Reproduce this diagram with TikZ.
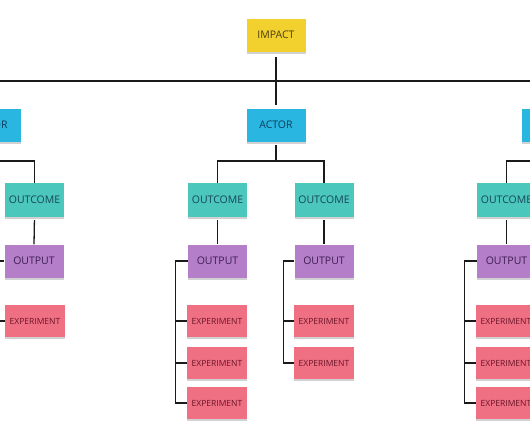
\documentclass[tikz,border=0pt]{standalone}
\usepackage{fontspec}
\setmainfont{Open Sans}
\usetikzlibrary{shadows}
\definecolor{impactfill}{HTML}{F2D02E}
\definecolor{impacttext}{HTML}{4B3F10}
\definecolor{actorfill}{HTML}{29B6E0}
\definecolor{actortext}{HTML}{0E3D5C}
\definecolor{outcomefill}{HTML}{4CC7BC}
\definecolor{outcometext}{HTML}{15465A}
\definecolor{outputfill}{HTML}{B57EC8}
\definecolor{outputtext}{HTML}{3D1F55}
\definecolor{expfill}{HTML}{F07083}
\definecolor{exptext}{HTML}{6A1528}
\definecolor{linecol}{HTML}{1A1A1A}
\tikzset{
  note/.style={inner sep=0pt, minimum width=59pt, minimum height=33pt,
    drop shadow={shadow xshift=0pt, shadow yshift=-2pt, opacity=0.18, fill=black}},
  impactnote/.style={note, fill=impactfill, text=impacttext, font=\fontsize{10.5}{12}\selectfont},
  actornote/.style={note, fill=actorfill, text=actortext, font=\fontsize{10.5}{12}\selectfont},
  outcomenote/.style={note, fill=outcomefill, text=outcometext, minimum height=34pt, font=\fontsize{10.5}{12}\selectfont},
  outputnote/.style={note, fill=outputfill, text=outputtext, font=\fontsize{10.5}{12}\selectfont},
  expnote/.style={note, fill=expfill, text=exptext, minimum width=60pt, minimum height=32pt, font=\fontsize{8.5}{10}\selectfont},
  link/.style={draw=linecol, line width=1.3pt}
}
\begin{document}
\begin{tikzpicture}[x=1pt,y=-1pt]
\useasboundingbox (0,0) rectangle (530,442);
\clip (0,0) rectangle (530,442);
\fill[white] (0,0) rectangle (530,442);
% level 1
\node[impactnote] (impact) at (276,35) {IMPACT};
% level 2
\node[actornote] (actorL) at (-9,125) {ACTOR};
\node[actornote] (actorC) at (276,125) {ACTOR};
\node[actornote] (actorR) at (551,125) {ACTOR};
% level 3
\node[outcomenote] (outL) at (34.5,200) {OUTCOME};
\node[outcomenote] (outC1) at (217.5,200) {OUTCOME};
\node[outcomenote] (outC2) at (324,200) {OUTCOME};
\node[outcomenote] (outR) at (506.5,200) {OUTCOME};
% level 4
\node[outputnote] (outpL) at (34,261) {OUTPUT};
\node[outputnote] (outpC1) at (217.5,261) {OUTPUT};
\node[outputnote] (outpC2) at (324,261) {OUTPUT};
\node[outputnote] (outpR) at (506.5,261) {OUTPUT};
% level 5
\node[expnote] (expL1) at (35,321) {EXPERIMENT};
\node[expnote] (expC1a) at (217,321) {EXPERIMENT};
\node[expnote] (expC1b) at (217,363) {EXPERIMENT};
\node[expnote] (expC1c) at (217,403) {EXPERIMENT};
\node[expnote] (expC2a) at (324,321) {EXPERIMENT};
\node[expnote] (expC2b) at (324,363) {EXPERIMENT};
\node[expnote] (expR1) at (506,321) {EXPERIMENT};
\node[expnote] (expR2) at (506,363) {EXPERIMENT};
\node[expnote] (expR3) at (506,403) {EXPERIMENT};
% junctions
\coordinate (hub) at (276,81);
\coordinate (jL) at (-9,161);
\coordinate (jC) at (276,161);
\coordinate (jR) at (551,161);
% connectors
\draw[link, shorten <=5pt, shorten >=3pt] (impact.south) -- (actorC.north);
\draw[link] (actorL.north) |- (hub) -| (actorR.north);
\draw[link, shorten <=3pt] (actorC.south) -- (jC);
\draw[link] (outC1.north) |- (jC) -| (outC2.north);
\draw[link] (actorL.south) -- (jL) -| (outL.north);
\draw[link] (actorR.south) -- (jR) -| (outR.north);
\draw[link, shorten <=3pt] (outL.south) -- (outpL.north);
\draw[link, shorten <=3pt] (outC1.south) -- (outpC1.north);
\draw[link, shorten <=3pt] (outC2.south) -- (outpC2.north);
\draw[link, shorten <=3pt] (outR.south) -- (outpR.north);
% output brackets
\draw[link] (outpL.west) -- ++(-12,0) coordinate (bL) |- (expL1.west);
\draw[link] (outpC1.west) -- ++(-12,0) coordinate (bC1) |- (expC1c.west);
\draw[link] (bC1) |- (expC1a.west);
\draw[link] (bC1) |- (expC1b.west);
\draw[link] (outpC2.west) -- ++(-11,0) coordinate (bC2) |- (expC2b.west);
\draw[link] (bC2) |- (expC2a.west);
\draw[link] (outpR.west) -- ++(-12,0) coordinate (bR) |- (expR3.west);
\draw[link] (bR) |- (expR1.west);
\draw[link] (bR) |- (expR2.west);
\end{tikzpicture}
\end{document}
